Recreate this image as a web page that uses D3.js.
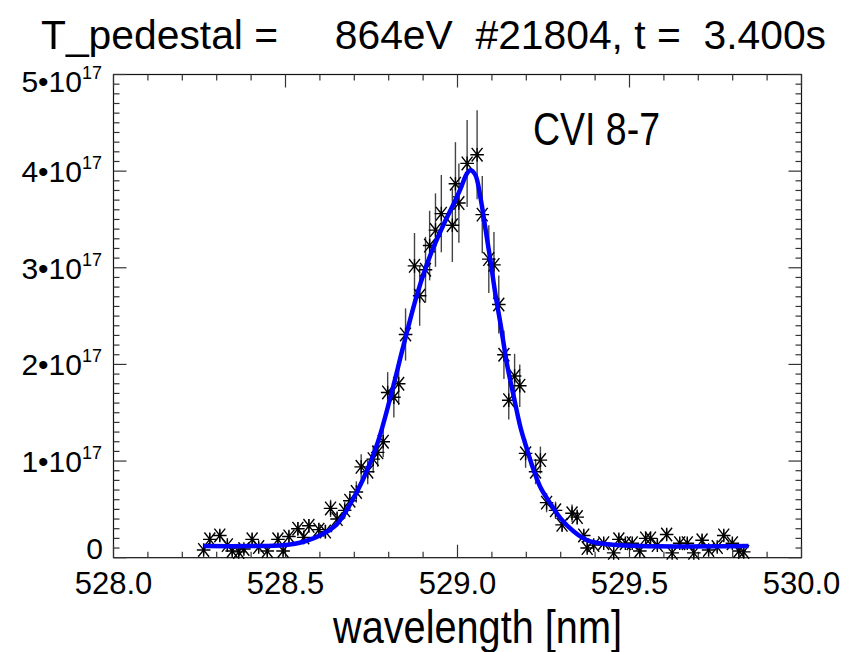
<!DOCTYPE html>
<html>
<head>
<meta charset="utf-8">
<script src="https://d3js.org/d3.v7.min.js"></script>
<style>
    body { margin: 0; background: white; }
    text { font-family: "Liberation Sans", Arial, sans-serif; fill: black; }
    .narrow { font-family: "Liberation Sans Narrow", "Liberation Sans", sans-serif; }
</style>
</head>
<body>
<div id="chart"></div>
<script>
// measured spectrum, intensity in units of 1e17
var wavelength = [528.262, 528.280, 528.309, 528.331, 528.345, 528.364, 528.379, 528.403, 528.422, 528.447,
    528.478, 528.493, 528.510, 528.536, 528.553, 528.568, 528.597, 528.616, 528.631, 528.650,
    528.672, 528.687, 528.706, 528.720, 528.739, 528.755, 528.768, 528.784, 528.797, 528.815,
    528.829, 528.849, 528.875, 528.890, 528.907, 528.919, 528.936, 528.953, 528.985, 528.994,
    529.004, 529.028, 529.057, 529.072, 529.091, 529.106, 529.120, 529.135, 529.149, 529.166,
    529.181, 529.198, 529.227, 529.241, 529.259, 529.285, 529.304, 529.333, 529.348, 529.367,
    529.377, 529.396, 529.425, 529.454, 529.469, 529.488, 529.508, 529.530, 529.547, 529.561,
    529.581, 529.608, 529.624, 529.646, 529.668, 529.687, 529.711, 529.730, 529.755, 529.774,
    529.799, 529.818, 529.832];
var intensity = [0.08, 0.19, 0.23, 0.13, 0.07, 0.06, 0.09, 0.19, 0.11, 0.07,
    0.19, 0.07, 0.22, 0.30, 0.21, 0.33, 0.29, 0.27, 0.51, 0.40,
    0.49, 0.59, 0.68, 0.94, 0.89, 1.02, 1.09, 1.20, 1.71, 1.66,
    1.80, 2.31, 3.02, 2.71, 2.98, 3.23, 3.39, 3.56, 3.44, 3.87,
    3.67, 4.08, 4.17, 3.55, 3.09, 3.03, 2.62, 2.10, 1.63, 1.88,
    1.78, 1.08, 0.89, 1.01, 0.57, 0.49, 0.34, 0.46, 0.42, 0.23,
    0.10, 0.13, 0.15, 0.05, 0.19, 0.15, 0.15, 0.07, 0.20, 0.20,
    0.13, 0.24, 0.05, 0.15, 0.15, 0.05, 0.18, 0.08, 0.11, 0.23,
    0.15, 0.07, 0.06];
var errors = [0.05, 0.06, 0.06, 0.05, 0.05, 0.05, 0.05, 0.06, 0.05, 0.05,
    0.06, 0.05, 0.06, 0.07, 0.06, 0.07, 0.07, 0.07, 0.09, 0.08,
    0.09, 0.10, 0.11, 0.13, 0.13, 0.14, 0.15, 0.16, 0.21, 0.21,
    0.22, 0.27, 0.34, 0.31, 0.34, 0.36, 0.38, 0.40, 0.38, 0.43,
    0.41, 0.45, 0.46, 0.40, 0.35, 0.34, 0.30, 0.25, 0.20, 0.23,
    0.22, 0.15, 0.13, 0.14, 0.10, 0.09, 0.07, 0.09, 0.08, 0.06,
    0.05, 0.05, 0.05, 0.05, 0.06, 0.05, 0.05, 0.05, 0.06, 0.06,
    0.05, 0.06, 0.05, 0.05, 0.05, 0.05, 0.06, 0.05, 0.05, 0.06,
    0.05, 0.05, 0.05];

// fitted profile
var fitWavelength = [528.262, 528.398, 528.495, 528.553, 528.611, 528.650, 528.689, 528.728, 528.767, 528.805,
    528.844, 528.883, 528.922, 528.960, 528.990, 529.009, 529.028, 529.038, 529.052, 529.067,
    529.081, 529.096, 529.110, 529.125, 529.144, 529.164, 529.183, 529.203, 529.222, 529.241,
    529.270, 529.299, 529.338, 529.377, 529.435, 529.532, 529.846];
var fitIntensity = [0.12, 0.12, 0.13, 0.165, 0.25, 0.35, 0.56, 0.83, 1.18, 1.66,
    2.21, 2.73, 3.14, 3.45, 3.67, 3.82, 3.98, 4.01, 3.96, 3.72,
    3.41, 3.07, 2.73, 2.42, 2.00, 1.66, 1.35, 1.11, 0.90, 0.73,
    0.56, 0.41, 0.27, 0.18, 0.14, 0.12, 0.12];

var xTicks = [528.0, 528.5, 529.0, 529.5, 530.0];
var xTickLabels = ["528.0", "528.5", "529.0", "529.5", "530.0"];
var yTicks = [0, 1, 2, 3, 4, 5];
var yTickLabels = ["0", "1•10", "2•10", "3•10", "4•10", "5•10"];

var title = "T_pedestal =     864eV  #21804, t =  3.400s";
var xTitle = "wavelength [nm]";
var lineLabel = "CVI 8-7";

var width = 849, height = 652;
var svg = d3.select("#chart").append("svg")
    .attr("width", width)
    .attr("height", height);

var x = d3.scaleLinear().domain([528, 530]).range([113.5, 801.5]);
var y = d3.scaleLinear().domain([0, 5]).range([557.7, 74.5]);

// frame
svg.append("rect")
    .attr("x", x(528)).attr("y", y(5))
    .attr("width", x(530) - x(528)).attr("height", y(0) - y(5))
    .attr("fill", "none").attr("stroke", "#111").attr("stroke-width", 1.2);

var xMinor = d3.range(528, 530.001, 0.1);
var yMinor = d3.range(0, 5.001, 0.1);

function tickLen(v, step) {
    return Math.abs(v / step - Math.round(v / step)) < 1e-6 ? 13 : 6;
}

var ticks = svg.append("g").attr("stroke", "#333").attr("stroke-width", 1.2);
xMinor.forEach(function(v) {
    var L = tickLen(v, 0.5);
    ticks.append("line").attr("x1", x(v)).attr("x2", x(v)).attr("y1", y(0)).attr("y2", y(0) - L);
    ticks.append("line").attr("x1", x(v)).attr("x2", x(v)).attr("y1", y(5)).attr("y2", y(5) + L);
});
yMinor.forEach(function(v) {
    var L = tickLen(v, 1);
    ticks.append("line").attr("y1", y(v)).attr("y2", y(v)).attr("x1", x(528)).attr("x2", x(528) + L);
    ticks.append("line").attr("y1", y(v)).attr("y2", y(v)).attr("x1", x(530)).attr("x2", x(530) - L);
});

// x tick labels
svg.selectAll(".xlab")
    .data(xTicks)
    .enter().append("text")
    .attr("x", function(d) { return x(d); })
    .attr("y", 594)
    .attr("text-anchor", "middle")
    .attr("font-size", 31)
    .text(function(d, i) { return xTickLabels[i]; });

// y tick labels
yTicks.forEach(function(d, i) {
    var cy = y(d);
    if (d === 5) cy = 81;
    if (d === 0) cy = 547.5;
    var t = svg.append("text")
        .attr("x", d === 0 ? 103 : 102)
        .attr("y", cy + 11)
        .attr("text-anchor", "end")
        .attr("font-size", 30);
    t.append("tspan").text(yTickLabels[i]);
    if (d !== 0) {
        t.append("tspan").attr("dy", -13).attr("font-size", 18).text("17");
    }
});

// error bars
var pts = wavelength.map(function(w, i) {
    return {w: w, v: intensity[i], e: errors[i]};
});
svg.append("g")
    .selectAll("line")
    .data(pts)
    .enter().append("line")
    .attr("x1", function(d) { return x(d.w); })
    .attr("x2", function(d) { return x(d.w); })
    .attr("y1", function(d) { return y(d.v - d.e); })
    .attr("y2", function(d) { return y(d.v + d.e); })
    .attr("stroke", "#444")
    .attr("stroke-width", 1.4);

// asterisks
var r = 6.8;
var star = "M" + (-r) + ",0L" + r + ",0" +
    "M0," + (-r) + "L0," + r +
    "M" + (-r * 0.8) + "," + (-r) + "L" + (r * 0.8) + "," + r +
    "M" + (-r * 0.8) + "," + r + "L" + (r * 0.8) + "," + (-r);
svg.append("g")
    .selectAll("path")
    .data(pts)
    .enter().append("path")
    .attr("transform", function(d) { return "translate(" + x(d.w) + "," + y(d.v) + ")"; })
    .attr("d", star)
    .attr("fill", "none")
    .attr("stroke", "black")
    .attr("stroke-width", 1.4);

// fit curve
var line = d3.line()
    .x(function(d) { return x(d[0]); })
    .y(function(d) { return y(d[1]); })
    .curve(d3.curveCatmullRom);
svg.append("path")
    .datum(fitWavelength.map(function(w, i) { return [w, fitIntensity[i]]; }))
    .attr("d", line)
    .attr("fill", "none")
    .attr("stroke", "#0000ff")
    .attr("stroke-width", 4.5)
    .attr("stroke-linejoin", "round");

// texts
svg.append("text")
    .attr("x", 41).attr("y", 49)
    .attr("font-size", 40)
    .attr("textLength", 785)
    .attr("lengthAdjust", "spacingAndGlyphs")
    .style("white-space", "pre")
    .text(title);

svg.append("text")
    .attr("class", "narrow")
    .attr("x", 333).attr("y", 643)
    .attr("font-size", 46)
    .attr("textLength", 289)
    .attr("lengthAdjust", "spacingAndGlyphs")
    .text(xTitle);

svg.append("text")
    .attr("class", "narrow")
    .attr("x", 533).attr("y", 145)
    .attr("font-size", 46)
    .attr("textLength", 127)
    .attr("lengthAdjust", "spacingAndGlyphs")
    .text(lineLabel);
</script>
</body>
</html>
